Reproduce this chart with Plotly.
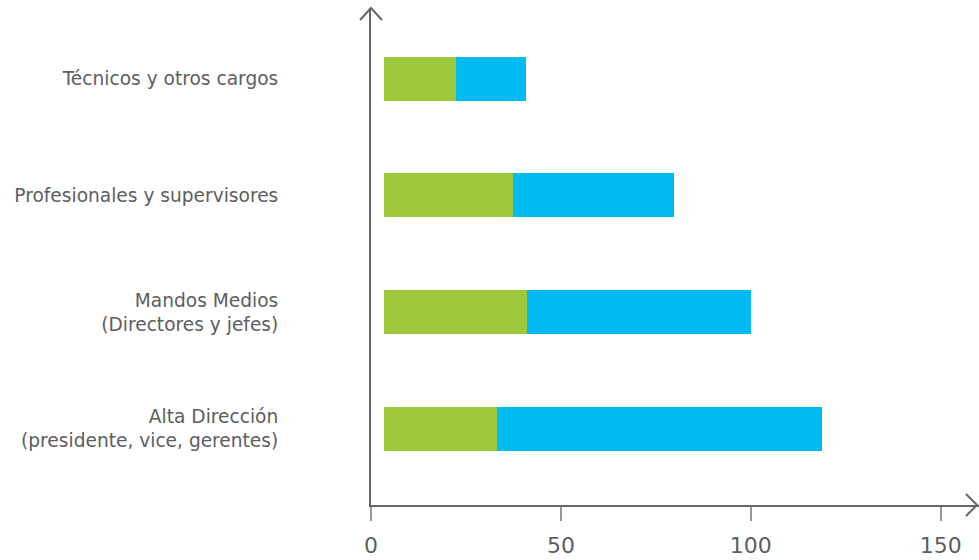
import plotly.graph_objects as go

# categories, bottom to top
categories = [
    "Alta Dirección<br>(presidente, vice, gerentes)",
    "Mandos Medios<br>(Directores y jefes)",
    "Profesionales y supervisores",
    "Técnicos y otros cargos",
]
start_offset = 3.5
green_values = [29.7, 37.7, 34.0, 19.0]
blue_values = [85.6, 58.9, 42.3, 18.4]
x_ticks = [0, 50, 100, 150]

GREEN = "#9DC83B"
BLUE = "#00BAF2"
AXIS = "#666666"
TEXT = "#5e5e5e"
FONT = "Verdana, DejaVu Sans, sans-serif"

green_base = [start_offset] * len(categories)
blue_base = [start_offset + g for g in green_values]

fig = go.Figure()
fig.add_trace(go.Bar(
    y=categories, x=green_values, base=green_base,
    orientation="h", marker=dict(color=GREEN, line=dict(width=0)),
    width=0.377, showlegend=False, hoverinfo="x+y",
))
fig.add_trace(go.Bar(
    y=categories, x=blue_values, base=blue_base,
    orientation="h", marker=dict(color=BLUE, line=dict(width=0)),
    width=0.377, showlegend=False, hoverinfo="x+y",
))

# arrowheads on the axes (pixel-sized, anchored to the axis ends)
fig.add_shape(
    type="path", xref="paper", yref="paper", xsizemode="pixel", ysizemode="pixel",
    xanchor=0, yanchor=1, path="M -11,-12 L 0,0 L 11,-12",
    line=dict(color=AXIS, width=2),
)
fig.add_shape(
    type="path", xref="paper", yref="paper", xsizemode="pixel", ysizemode="pixel",
    xanchor=1, yanchor=0, path="M -13,11 L -2,0 L -13,-11",
    line=dict(color=AXIS, width=2),
)

fig.update_layout(
    width=979, height=560,
    margin=dict(l=371, r=0, t=8, b=55),
    paper_bgcolor="white", plot_bgcolor="white",
    barmode="overlay", bargap=0,
    font=dict(family=FONT, color=TEXT),
    xaxis=dict(
        range=[0, 160.1], tickvals=x_ticks,
        showline=True, linecolor=AXIS, linewidth=2,
        ticks="outside", ticklen=14, tickwidth=2, tickcolor="#9a9a9a",
        ticklabelstandoff=6,
        tickfont=dict(size=22, color=TEXT, family=FONT),
        showgrid=False, zeroline=False,
    ),
    yaxis=dict(
        type="category", categoryorder="array", categoryarray=categories,
        range=[-0.653, 3.606],
        showline=True, linecolor=AXIS, linewidth=2,
        ticks="", ticklabelstandoff=87,
        tickfont=dict(size=18.6, color=TEXT, family=FONT),
        showgrid=False, zeroline=False,
    ),
)

fig.write_html(
    "out.html",
    config={"displayModeBar": False},
    post_script="document.body.style.margin = '0';",
)
